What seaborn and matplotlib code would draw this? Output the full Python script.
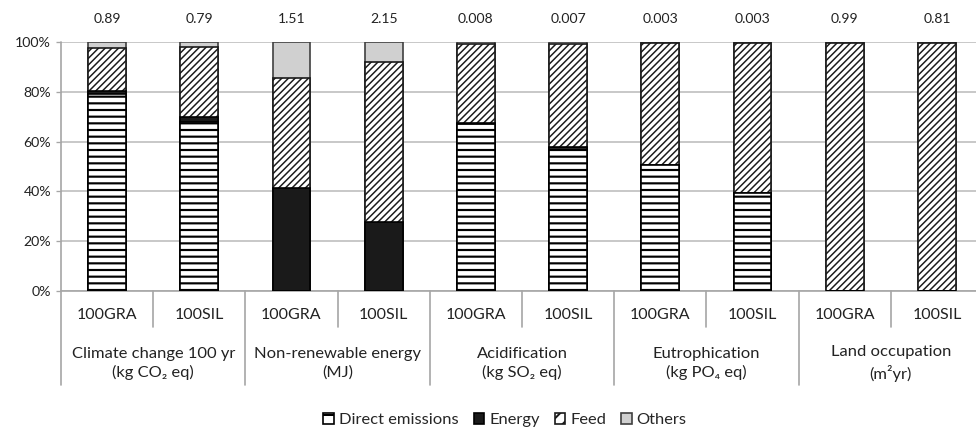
import matplotlib
matplotlib.use("Agg")
import matplotlib.pyplot as plt
import matplotlib.transforms as mtransforms
from matplotlib.patches import Patch
import pandas as pd
import seaborn as sns

# Impact categories (two production systems each)
groups = [
    "Climate change 100 yr\n(kg CO\u2082 eq)",
    "Non-renewable energy\n(MJ)",
    "Acidification\n(kg SO\u2082 eq)",
    "Eutrophication\n(kg PO\u2084 eq)",
    "Land occupation\n(m\u00b2yr)",
]
systems = ["100GRA", "100SIL"]
totals = ["0.89", "0.79", "1.51", "2.15", "0.008", "0.007", "0.003", "0.003", "0.99", "0.81"]

# Contribution shares (%) per bar, in group/system order
direct = [79.0, 68.0, 0.0, 0.0, 67.0, 57.5, 50.5, 39.3, 0.0, 0.0]
energy = [1.3, 1.8, 41.5, 27.7, 0.4, 0.3, 0.2, 0.2, 0.0, 0.0]
feed = [17.4, 28.0, 44.2, 64.3, 31.7, 41.5, 48.8, 60.0, 99.5, 99.5]
others = [2.3, 2.2, 14.3, 8.0, 0.9, 0.7, 0.5, 0.5, 0.5, 0.5]

layers = ["Direct emissions", "Energy", "Feed", "Others"]

sns.set_theme(style="white")
plt.rcParams["font.family"] = ["Lato", "DejaVu Sans"]
plt.rcParams["hatch.linewidth"] = 1.2
plt.rcParams["hatch.color"] = "black"

slots = [f"{g}|{s}" for g in groups for s in systems]

rows = []
for i, slot in enumerate(slots):
    cum = 0.0
    for name, vals in zip(layers, [direct, energy, feed, others]):
        cum += vals[i]
        rows.append({"slot": slot, "layer": name, "cum": cum})
df = pd.DataFrame(rows)

styles = {
    "Direct emissions": dict(color="white", hatch="---", edgecolor="black", hlw=1.3),
    "Energy": dict(color="#1a1a1a", hatch=None, edgecolor="black", hlw=1.0),
    "Feed": dict(color="white", hatch="//////", edgecolor="#1a1a1a", hlw=0.9),
    "Others": dict(color="#d0d0d0", hatch=None, edgecolor="#404040", hlw=1.0),
}

text_c = "#222222"
DPI = 120
fig = plt.figure(figsize=(976 / DPI, 431 / DPI), dpi=DPI)
W, H = 976, 431
ax_left, ax_right, ax_top, ax_bot = 61, 983, 42, 291
ax = fig.add_axes([ax_left / W, 1 - ax_bot / H, (ax_right - ax_left) / W, (ax_bot - ax_top) / H])

# Stack by overlaying cumulative totals, tallest first
for name in reversed(layers):
    st = styles[name]
    with plt.rc_context({"hatch.linewidth": st["hlw"]}):
        sns.barplot(
            data=df[df["layer"] == name], x="slot", y="cum", order=slots,
            color=st["color"], saturation=1, width=0.41, errorbar=None,
            edgecolor=st["edgecolor"], linewidth=1.0, hatch=st["hatch"], ax=ax, zorder=3,
        )

ax.set_xlim(-0.5, len(slots) - 0.5)
ax.set_ylim(0, 100)
ax.set_xlabel("")
ax.set_ylabel("")

grid_c = "#bfbfbf"
ax.set_yticks(range(0, 101, 20))
ax.set_yticklabels([f"{v}%" for v in range(0, 101, 20)], fontsize=8.5, color=text_c)
ax.tick_params(axis="y", length=3, width=0.8, color="#a6a6a6", pad=3, left=True)
ax.yaxis.grid(True, color=grid_c, linewidth=1.0, zorder=0)
ax.xaxis.grid(False)
ax.set_axisbelow(True)

ax.set_xticks(range(len(slots)))
ax.set_xticklabels([s.split("|")[1] for s in slots], fontsize=9.6, color=text_c)
ax.tick_params(axis="x", length=0, pad=10)

for side in ["top", "right", "left"]:
    ax.spines[side].set_visible(False)
ax.spines["bottom"].set_color("#a6a6a6")
ax.spines["bottom"].set_linewidth(1.0)

# Category dividers below the axis
tr = mtransforms.blended_transform_factory(ax.transData, fig.transFigure)
for k in range(len(slots) + 1):
    x = k - 0.5
    y_end = 385 if k % 2 == 0 else 327
    y_start = ax_top if k == 0 else ax_bot
    ax.plot([x, x], [1 - y_start / H, 1 - y_end / H], color="#a6a6a6", linewidth=1.0,
            transform=tr, clip_on=False, zorder=4)

# Group labels
for j, g in enumerate(groups):
    ax.text(2 * j + 0.5, 1 - 363.5 / H, g, transform=tr, ha="center", va="center",
            fontsize=9.9, color=text_c, linespacing=1.37)

# Totals above bars
for i, t in enumerate(totals):
    ax.text(i, 1 - 19 / H, t, transform=tr, ha="center", va="center", fontsize=8.4, color=text_c)

legend_hatch = {"Direct emissions": "--", "Feed": "///"}
handles = [
    Patch(facecolor=styles[n]["color"], edgecolor=styles[n]["edgecolor"],
          hatch=legend_hatch.get(n), label=n)
    for n in layers
]
fig.legend(handles=handles, loc="center", bbox_to_anchor=(505 / W, 1 - 420 / H), ncol=4,
           frameon=False, fontsize=9.9, handlelength=0.65, handleheight=0.65,
           handletextpad=0.3, columnspacing=0.9, borderaxespad=0)

fig.savefig("out.png", dpi=DPI)
